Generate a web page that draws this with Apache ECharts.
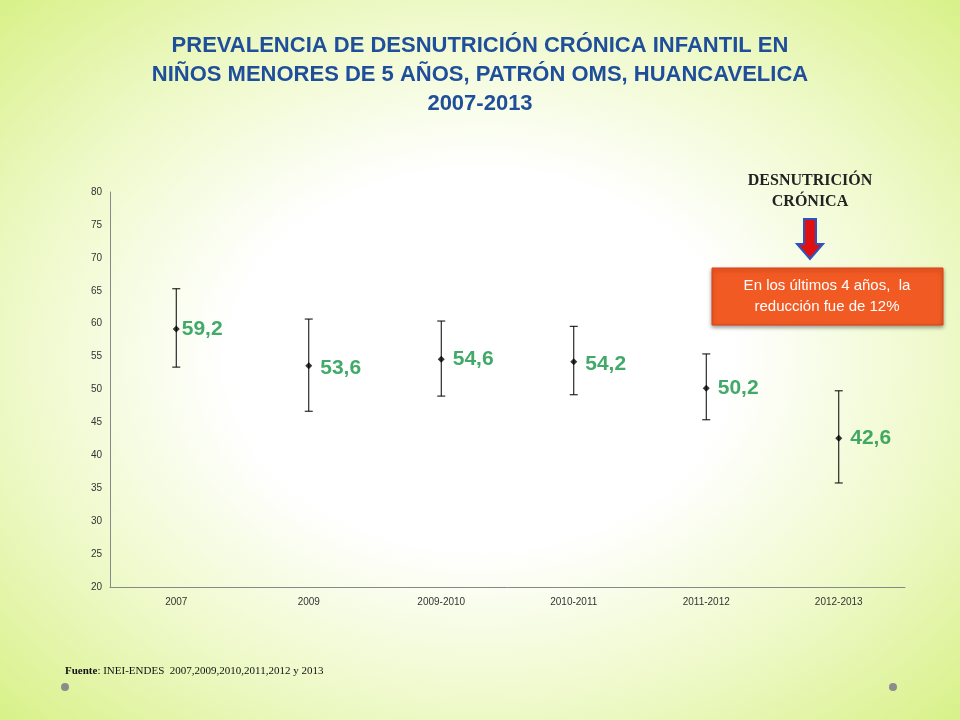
<!DOCTYPE html>
<html><head><meta charset="utf-8">
<script src="https://cdn.jsdelivr.net/npm/echarts@6/dist/echarts.min.js"></script>
<style>
html,body{margin:0;padding:0;width:960px;height:720px;overflow:hidden;
background:radial-gradient(ellipse 75% 75% at 50% 50%,#ffffff 0%,#ffffff 35%,#eef9c8 65%,#d4ef7c 100%);}
#c{width:960px;height:720px;}
</style></head><body><div id="c"></div>
<script>
var categories=['2007','2009','2009-2010','2010-2011','2011-2012','2012-2013'];
var values=[59.2,53.6,54.6,54.2,50.2,42.6];
var upper=[65.3,60.7,60.4,59.6,55.4,49.8];
var lower=[53.4,46.7,49.0,49.2,45.4,35.8];
var labels=['59,2','53,6','54,6','54,2','50,2','42,6'];
var labelOffsets=[[0,0],[6,2],[6,0],[6,2],[6,0],[6,0]];

var chart=echarts.init(document.getElementById('c'));
chart.setOption({
  backgroundColor:'transparent',
  title:{text:'PREVALENCIA DE DESNUTRICIÓN CRÓNICA INFANTIL EN\nNIÑOS MENORES DE 5 AÑOS, PATRÓN OMS, HUANCAVELICA\n2007-2013',
    left:'center',top:26,
    textStyle:{color:'#1f4f9a',fontFamily:'Liberation Sans, Arial',fontWeight:'bold',fontSize:22,lineHeight:29,align:'center'}},
  grid:{left:110,right:55,top:192,bottom:133},
  xAxis:{type:'category',data:categories,
    axisLine:{lineStyle:{color:'#888'}},axisTick:{lineStyle:{color:'#888'}},
    axisLabel:{color:'#333',fontSize:10,margin:10}},
  yAxis:{type:'value',min:20,max:80,interval:5,
    axisLine:{show:true,lineStyle:{color:'#888'}},axisTick:{show:false},
    splitLine:{show:false},axisLabel:{color:'#333',fontSize:10}},
  series:[
    {type:'custom',data:categories.map(function(c,i){return [i,lower[i],upper[i]];}),
     renderItem:function(p,api){
       var lo=api.coord([api.value(0),api.value(1)]),hi=api.coord([api.value(0),api.value(2)]);
       var w=4;
       return {type:'group',children:[
        {type:'line',shape:{x1:lo[0],y1:lo[1],x2:hi[0],y2:hi[1]},style:{stroke:'#000',lineWidth:1}},
        {type:'line',shape:{x1:lo[0]-w,y1:lo[1],x2:lo[0]+w,y2:lo[1]},style:{stroke:'#000',lineWidth:1}},
        {type:'line',shape:{x1:hi[0]-w,y1:hi[1],x2:hi[0]+w,y2:hi[1]},style:{stroke:'#000',lineWidth:1}}]};
     },z:2},
    {type:'scatter',symbol:'diamond',symbolSize:7,itemStyle:{color:'#000'},
     data:values.map(function(v,i){return {value:[i,v],label:{offset:labelOffsets[i],formatter:labels[i]}};}),
     label:{show:true,position:'right',distance:2,color:'#139444',fontSize:21,fontWeight:'bold',fontFamily:'Liberation Sans, Arial'},z:3}
  ],
  graphic:[
    {type:'text',style:{x:810,y:170,text:'DESNUTRICIÓN\nCRÓNICA',textAlign:'center',font:'bold 16px "Liberation Serif", serif',fill:'#222',lineHeight:21}},
    {type:'polygon',shape:{points:[[804,219],[816,219],[816,244],[823,244],[810,259],[797,244],[804,244]]},style:{fill:'#e01010',stroke:'#2a55c0',lineWidth:2}},
    {type:'rect',shape:{x:712,y:268,width:231,height:57},style:{fill:'#f25a24',stroke:'#e04010',lineWidth:1,shadowBlur:4,shadowColor:'rgba(0,0,0,0.4)',shadowOffsetY:2}},
    {type:'text',style:{x:827,y:275,text:'En los últimos 4 años,  la\nreducción fue de 12%',textAlign:'center',font:'15px "Liberation Sans", Arial',fill:'#fff',lineHeight:21}},
    {type:'text',style:{x:65,y:666,rich:{b:{font:'bold 11px "Liberation Serif", serif',fill:'#111'},n:{font:'11px "Liberation Serif", serif',fill:'#111'}},text:'{b|Fuente}{n|: INEI-ENDES  2007,2009,2010,2011,2012 y 2013}'}},
    {type:'circle',shape:{cx:65,cy:687,r:4},style:{fill:'#8c8c8c'}},
    {type:'circle',shape:{cx:893,cy:687,r:4},style:{fill:'#8c8c8c'}}
  ]
});
</script></body></html>
